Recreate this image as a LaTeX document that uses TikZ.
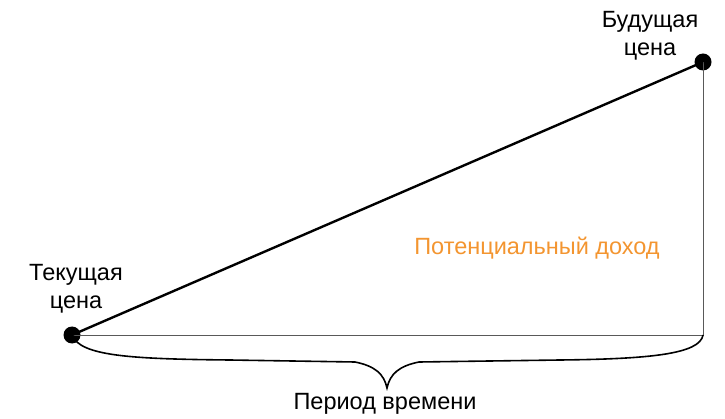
\documentclass[tikz,border=0pt]{standalone}
\usepackage{fontspec}
\setmainfont{Liberation Sans}
\definecolor{profit}{HTML}{F39530}
\begin{document}
\begin{tikzpicture}[x=1pt,y=-1pt,
  lbl/.style={font=\fontsize{23.5}{28}\selectfont, align=center, inner sep=0pt},
  dot/.style={circle, fill=black, minimum size=17pt, inner sep=0pt},
  thin line/.style={draw=black!65, line width=0.9pt},
  thick line/.style={draw=black, line width=2.4pt},
  brace line/.style={draw=black, line width=1.6pt}]
\useasboundingbox (0,0) rectangle (725,419);
\node[dot] (cur) at (72,335) {};
\node[dot] (fut) at (703,62) {};
\coordinate (corner) at (703,335);
\draw[thin line] (cur.center) -- (corner) -- (fut.center);
\draw[thick line] (cur.center) -- (fut.center);
\coordinate (tip) at (387,388);
\draw[brace line] (cur.center) .. controls (80,356) and (130,359) .. (230,360)
  -- (355,362) .. controls (375,366) and (384,374) .. (tip)
  .. controls (390,374) and (399,366) .. (419,362)
  -- (560,360) .. controls (650,359) and (700,354) .. (corner);
\node[lbl] (curlbl) at (76,289) {Текущая\\цена};
\node[lbl] (futlbl) at (650,36) {Будущая\\цена};
\node[lbl, text=profit] (profit) at (537,248) {Потенциальный доход};
\node[lbl] (period) at (385,404) {Период времени};
\end{tikzpicture}
\end{document}
